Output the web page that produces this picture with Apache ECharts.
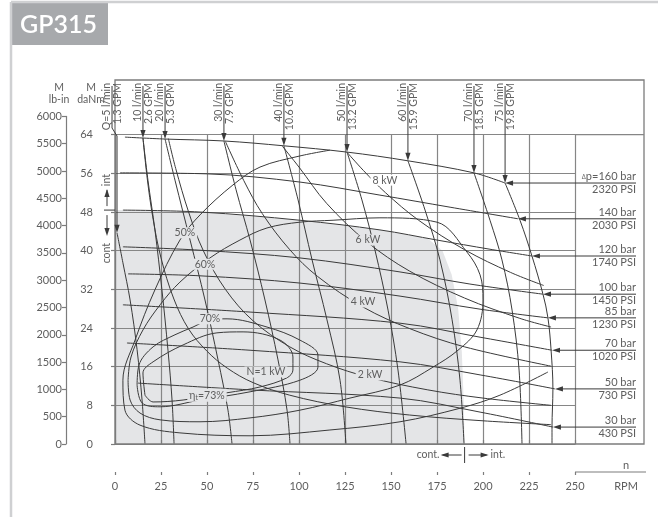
<!DOCTYPE html>
<html>
<head>
<meta charset="utf-8">
<script src="https://cdn.jsdelivr.net/npm/echarts@6/dist/echarts.min.js"></script>
<style>html,body{margin:0;padding:0;background:#fff}#c{width:658px;height:517px}</style>
</head>
<body>
<div id="c"></div>
<script>
// ---- GP315 motor: torque (daNm) vs speed (RPM) ----
const rpmMax = 250, rpmStep = 25;
const torqueMax = 64, torqueStep = 8;
const lbInMax = 6000, lbInStep = 500;

// constant pressure drop curves  [rpm, daNm]
const pressureBar = [160, 140, 120, 100, 85, 70, 50, 30];
const pressurePsi = [2320, 2030, 1740, 1450, 1230, 1020, 730, 430];
const p160 = [[5.4,63.5],[27.2,63.1],[59.2,62.7],[91.8,61.7],[126.1,60.4],[159.2,58.6],[195.1,56.1],[212.0,54.0]];
const p140 = [[2.7,56.1],[50.0,55.9],[100.5,54.2],[144.0,51.5],[182.1,49.0],[219.0,46.6]];
const p120 = [[4.3,48.4],[46.2,48.0],[100.5,46.3],[144.0,44.3],[175.0,42.2],[203.8,40.3],[226.6,38.9]];
const p100 = [[4.3,40.8],[46.2,40.1],[100.5,38.5],[154.9,35.6],[192.9,33.1],[232.6,31.0]];
const p85  = [[7.1,35.2],[46.2,34.8],[100.5,33.3],[154.9,30.6],[198.4,27.9],[235.3,26.1]];
const p70  = [[4.3,28.8],[73.4,27.3],[154.9,25.0],[198.4,22.1],[237.5,19.4]];
const p50  = [[6.5,20.9],[73.4,19.4],[154.9,17.0],[198.4,14.3],[239.1,11.4]];
const p30  = [[12.5,12.6],[73.4,11.2],[154.9,9.5],[198.4,6.6],[238.0,3.5]];
const pressureCurves = [p160, p140, p120, p100, p85, p70, p50, p30];

// constant flow curves
const flowLpm = [5, 10, 20, 30, 40, 50, 60, 70, 75];
const flowGpm = ['1.3', '2.6', '5.3', '7.9', '10.6', '13.2', '15.9', '18.5', '19.8'];
const q5  = [[1.1,43.7],[4.3,37.5],[8.2,29.8],[12.0,19.5],[14.7,9.1],[16.3,0]];
const q10 = [[15.2,63.3],[17.9,54.6],[21.7,44.3],[25.5,31.9],[28.8,19.4],[31.0,9.1],[32.1,0]];
const q20 = [[27.2,63.1],[32.6,54.6],[40.8,42.2],[48.9,29.8],[56.0,17.4],[61.4,7.0],[63.6,0]];
const q30 = [[59.2,62.7],[65.8,52.6],[73.4,42.2],[81.5,29.8],[88.6,17.4],[93.5,7.0],[95.1,0]];
const q40 = [[91.8,61.7],[99.5,50.5],[107.1,38.1],[115.2,25.7],[122.3,13.2],[125.5,0]];
const q50 = [[126.1,60.4],[134.2,50.5],[141.3,40.1],[148.4,27.7],[153.8,15.3],[158.2,0]];
const q60 = [[159.2,58.6],[168.5,48.4],[176.6,38.1],[183.2,25.7],[187.5,13.2],[189.7,0]];
const q70 = [[195.1,56.1],[203.8,46.3],[210.3,38.1],[215.8,27.7],[219.6,15.3],[221.2,0]];
const q75 = [[212.0,54.0],[220.1,46.3],[226.6,38.9],[232.6,31.0],[235.3,26.1],[237.0,19.4],[238.0,11.4],[237.5,3.5],[237.5,0]];
const flowCurves = [q5, q10, q20, q30, q40, q50, q60, q70, q75];

// constant output power curves
const powerKw = [1, 2, 4, 6, 8];
const n1 = [[15.2,63.3],[17.5,55.0],[20.5,47.0],[25,38.5],[32,30.0],[40,23.8],[50,19.2],[61,15.7],[75,12.7],[95,10.1],[125,7.7],[160,6.0],[200,4.8],[237,4.0]];
const n2 = [[29,63.2],[33,57.0],[40,48.0],[48,40.0],[60,32.0],[75,25.5],[95,20.1],[115,16.6],[138,13.8],[170,11.2],[200,9.5],[237,8.0]];
const n4 = [[60,62.6],[70,54.5],[80,47.7],[95,40.2],[110,34.7],[135,28.3],[160,23.9],[190,20.1],[237,16.1]];
const n6 = [[91,61.6],[100,57.3],[115,49.8],[137,41.8],[160,35.8],[190,30.2],[220,26.0],[237,24.2]];
const n8 = [[126,60.4],[135,56.6],[147,52.0],[165,46.3],[190,40.2],[215,35.5],[233,32.8]];
const powerCurves = [n1, n2, n4, n6, n8];

// overall efficiency contours
const effPct = [50, 60, 70, 73];
const e50 = [[116.8,60.8],[100.5,59.6],[78.8,57.3],[64.1,53.6],[46.2,47.4],[35.3,42.2],[21.7,31.9],[10.9,21.5],[4.3,13.2],[5.4,7.0],[13.6,3.9],[35.3,2.3],[73.4,1.7],[116.8,2.9],[154.9,4.6],[187.5,7.4],[209.2,10.1],[235.3,14.9]];
const e60 = [[7.1,13.2],[8.7,18.0],[15.2,23.6],[24.5,28.8],[35.3,33.5],[51.6,38.5],[67.9,42.2],[82.6,44.7],[100.5,45.9],[118.5,46.3],[144.0,46.8],[175.0,45.9],[191.3,39.7],[198.4,35.0],[200.0,29.8],[196.7,23.6],[186.4,19.4],[172.8,15.9],[154.9,12.2],[127.7,9.5],[100.5,7.0],[73.4,5.4],[46.2,4.6],[24.5,5.0],[13.6,6.4],[8.2,9.1],[7.1,13.2]];
const e70 = [[12.0,12.2],[13.0,16.3],[20.7,20.1],[32.6,22.6],[42.4,24.2],[51.6,25.7],[60.9,25.9],[82.6,24.2],[100.5,21.5],[110.3,18.4],[110.3,15.9],[100.5,13.2],[73.4,10.8],[46.2,9.1],[24.5,7.7],[14.7,8.5],[12.0,12.2]];
const e73 = [[16.3,10.1],[15.2,14.7],[20.7,17.0],[37.0,20.5],[55.4,23.0],[69.6,23.2],[89.7,21.5],[96.7,18.0],[96.7,15.3],[93.5,13.7],[78.8,11.8],[60.9,10.6],[37.0,9.1],[20.7,8.7],[16.3,10.1]];
const effCurves = [e50, e60, e70, e73];

// continuous duty area
const contArea = [[0,0],[0,48.4],[4.3,48.4],[46.2,48.0],[100.5,46.3],[144.0,44.3],[170,42.5],[178,40],[183,35],[186.5,28],[188.5,19],[189.5,9],[190,0]];

// curve label anchors
const effLabelAt = [[38,43.7],[48.9,37.2],[51.6,25.9],[50,10.1]];
const powerLabelAt = [[82,14.9],[138.6,14.3],[134.8,29.4],[137.5,42.2],[146.7,54.6]];

// ---- styling ----
const FONT = 'Lato, "Open Sans", sans-serif';
const lineColor = '#3a3a3a';
const gridColor = '#868686';
const frameColor = '#7c7c7c';
const textColor = '#5e5e5e';
const shadeColor = '#e4e5e7';

const chart = echarts.init(document.getElementById('c'));

function curve(data) {
  return { type: 'line', xAxisIndex: 0, yAxisIndex: 0, data, symbol: 'none', showSymbol: false,
    smooth: 0.35, silent: true, z: 3, lineStyle: { color: lineColor, width: 1 } };
}

const axisFont = { color: textColor, fontSize: 11, fontFamily: FONT };

const option = {
  animation: false,
  grid: [
    { left: 115, right: 83, top: 134.7, bottom: 73 },
    { left: 66, width: 1, top: 116.4, bottom: 73 }
  ],
  xAxis: [
    { gridIndex: 0, type: 'value', position: 'bottom', min: 0, max: rpmMax, interval: rpmStep, offset: 28,
      axisLine: { lineStyle: { color: frameColor, width: 1.2 } },
      axisTick: { inside: true, length: 4, lineStyle: { color: frameColor, width: 1.2 } },
      axisLabel: Object.assign({ margin: 9 }, axisFont),
      splitLine: { show: true, lineStyle: { color: gridColor, width: 1.2 } } },
    { gridIndex: 0, type: 'value', position: 'bottom', min: 0, max: rpmMax, interval: rpmStep, offset: 28,
      axisLine: { show: false }, axisLabel: { show: false }, splitLine: { show: false },
      axisTick: { inside: false, length: 3, lineStyle: { color: frameColor, width: 1.2 } } },
    { gridIndex: 1, type: 'value', show: false, min: 0, max: 1 }
  ],
  yAxis: [
    { gridIndex: 0, type: 'value', min: 0, max: torqueMax, interval: torqueStep, offset: 18,
      axisLine: { show: true, lineStyle: { color: frameColor, width: 1.2 } },
      axisTick: { show: true, length: 4, lineStyle: { color: frameColor, width: 1.2 } },
      axisLabel: Object.assign({ margin: 4 }, axisFont),
      splitLine: { show: true, lineStyle: { color: gridColor, width: 1.2 } } },
    { gridIndex: 1, type: 'value', min: 0, max: lbInMax, interval: lbInStep,
      axisLine: { show: true, lineStyle: { color: frameColor, width: 1.2 } },
      axisTick: { show: true, length: 4, lineStyle: { color: frameColor, width: 1.2 } },
      axisLabel: Object.assign({ margin: 4, formatter: v => String(v) }, axisFont),
      splitLine: { show: false } }
  ],
  series: [
    { type: 'custom', xAxisIndex: 0, yAxisIndex: 0, z: -1, silent: true, data: [[0, 0]],
      renderItem: (params, api) => ({ type: 'polygon',
        shape: { points: contArea.map(p => api.coord(p)) }, style: { fill: shadeColor } }) }
  ]
    .concat(pressureCurves.map(curve))
    .concat(flowCurves.map(curve))
    .concat(powerCurves.map(curve))
    .concat(effCurves.map(curve))
};
chart.setOption(option);

// ---- annotations placed through the axis scales ----
const toPx = p => chart.convertToPixel({ xAxisIndex: 0, yAxisIndex: 0 }, p);
const G = [];
function seg(x1, y1, x2, y2, stroke, w) {
  G.push({ type: 'line', silent: true, z: 50, shape: { x1, y1, x2, y2 }, style: { stroke: stroke || lineColor, lineWidth: w || 1 } });
}
function pline(points, stroke, w) {
  G.push({ type: 'polyline', silent: true, z: 50, shape: { points }, style: { stroke: stroke || lineColor, lineWidth: w || 1, fill: null } });
}
function tri(points, fill) {
  G.push({ type: 'polygon', silent: true, z: 51, shape: { points }, style: { fill: fill || lineColor } });
}
function txt(str, x, y, o) {
  o = o || {};
  const st = { text: str, x: 0, y: 0, fill: o.fill || textColor,
    font: (o.weight || 'normal') + ' ' + (o.size || 11) + 'px ' + FONT,
    align: o.align || 'center', verticalAlign: o.valign || 'middle',
    textAlign: o.align || 'center', textVerticalAlign: o.valign || 'middle' };
  if (o.bg) { st.backgroundColor = o.bg; st.padding = o.pad || [0, 2]; }
  if (o.rich) st.rich = o.rich;
  G.push({ type: 'text', silent: true, z: o.z || 60, x, y, rotation: o.rot || 0, style: st });
}
function arrowDown(x, y) { tri([[x - 2.6, y - 8], [x + 2.6, y - 8], [x, y]]); }
function arrowLeft(x, y) { tri([[x + 8, y - 2.6], [x + 8, y + 2.6], [x, y]]); }
function arrowRight(x, y) { tri([[x - 8, y - 2.6], [x - 8, y + 2.6], [x, y]]); }
function arrowUp(x, y) { tri([[x - 2.6, y + 8], [x + 2.6, y + 8], [x, y]]); }

const origin = toPx([0, 0]);
const corner = toPx([rpmMax, torqueMax]);
const frameTop = 80, frameRight = 644, labelRight = 636;

// page card, title tab
seg(11, 2, 658, 2, '#cfd0d2', 2.5);
seg(11, 2, 11, 517, '#cfd0d2', 2.5);
G.push({ type: 'rect', silent: true, z: 40, shape: { x: 11, y: 2, width: 97, height: 43 }, style: { fill: '#a7a9ac' } });
txt('GP315', 20, 25, { size: 25, weight: 600, fill: '#ffffff', align: 'left', z: 41 });

// outer frame around plot and label columns
G.push({ type: 'rect', silent: true, z: 45, shape: { x: origin[0], y: frameTop, width: frameRight - origin[0], height: origin[1] - frameTop },
  style: { fill: null, stroke: frameColor, lineWidth: 1.3 } });
seg(corner[0], corner[1], frameRight, corner[1], gridColor, 1.2);
// x-axis line continues under the unit label
seg(corner[0], origin[1] + 28, frameRight + 2, origin[1] + 28, frameColor, 1.2);
txt('n', 626, origin[1] + 21, { size: 11 });
txt('RPM', 626, origin[1] + 42, { size: 11 });

// axis titles
txt('M', 59, 88, { size: 10.5 });
txt('lb-in', 59, 99.5, { size: 10.5 });
txt('M', 91, 88, { size: 10.5 });
txt('daNm', 91, 99.5, { size: 10.5 });

// continuous / intermittent markers
const contEdge = toPx(contArea[contArea.length - 1]);
seg(contEdge[0], origin[1] + 3, contEdge[0], origin[1] + 19, lineColor, 1);
seg(contEdge[0] - 3, origin[1] + 11, contEdge[0] - 22, origin[1] + 11, lineColor, 1);
arrowLeft(contEdge[0] - 24, origin[1] + 11);
txt('cont.', contEdge[0] - 25, origin[1] + 11, { align: 'right', size: 10.5 });
seg(contEdge[0] + 4, origin[1] + 11, contEdge[0] + 22, origin[1] + 11, lineColor, 1);
arrowRight(contEdge[0] + 24, origin[1] + 11);
txt('int.', contEdge[0] + 26, origin[1] + 11, { align: 'left', size: 10.5 });

const contTop = toPx(contArea[1]);
seg(104, contTop[1], origin[0], contTop[1], lineColor, 1);
seg(107, contTop[1] - 4, 107, contTop[1] - 20, lineColor, 1);
arrowUp(107, contTop[1] - 21);
txt('int', 107, contTop[1] - 30, { rot: Math.PI / 2, size: 10.5, align: 'center' });
seg(107, contTop[1] + 5, 107, contTop[1] + 20, lineColor, 1);
arrowDown(107, contTop[1] + 26);
txt('cont', 107, contTop[1] + 43, { rot: Math.PI / 2, size: 10.5, align: 'center' });

// flow labels along the top
flowCurves.forEach((c, i) => {
  const tip = toPx(c[0]);
  let ax = tip[0];
  if (i === 0) {
    ax = tip[0] - 5;
    pline([[ax, 86], [ax, 128], [tip[0], 136], [tip[0], tip[1] - 6]]);
  } else {
    seg(ax, 86, ax, tip[1] - 6);
  }
  arrowDown(tip[0], tip[1]);
  const first = (i === 0 ? 'Q=' : '') + flowLpm[i] + ' l/min';
  txt(first, ax - 5.5, 83, { rot: Math.PI / 2, align: 'right', size: 10.5 });
  txt(flowGpm[i] + ' GPM', ax + 5.5, 83, { rot: Math.PI / 2, align: 'right', size: 10.5 });
});

// pressure labels on the right
pressureCurves.forEach((c, i) => {
  const tip = toPx(c[c.length - 1]);
  seg(labelRight, tip[1], tip[0] + 6, tip[1]);
  arrowLeft(tip[0], tip[1]);
  if (i === 0) {
    txt('{s|\u2206}p=' + pressureBar[i] + ' bar', labelRight, tip[1] - 6.5,
      { align: 'right', size: 11, rich: { s: { fontSize: 7, fill: textColor, fontFamily: FONT } } });
  } else {
    txt(pressureBar[i] + ' bar', labelRight, tip[1] - 6.5, { align: 'right', size: 11 });
  }
  txt(pressurePsi[i] + ' PSI', labelRight, tip[1] + 6.5, { align: 'right', size: 11 });
});

// efficiency and power labels
const inShade = p => p[1] < 44 && p[0] < 185;
effLabelAt.forEach((p, i) => {
  const q = toPx(p);
  const bg = inShade(p) ? shadeColor : '#ffffff';
  if (i === effPct.length - 1) {
    txt('{e|\u03b7}{t|t}{e|=' + effPct[i] + '%}', q[0], q[1], { bg, rich: {
      e: { fontSize: 10.5, fill: textColor, fontFamily: FONT },
      t: { fontSize: 7, fill: textColor, fontFamily: FONT, verticalAlign: 'bottom', padding: [6, 0, 0, 0] } } });
  } else {
    txt(effPct[i] + '%', q[0], q[1], { bg, size: 10.5 });
  }
});
powerLabelAt.forEach((p, i) => {
  const q = toPx(p);
  const bg = inShade(p) ? shadeColor : '#ffffff';
  txt((i === 0 ? 'N=' : '') + powerKw[i] + ' kW', q[0], q[1], { bg, size: 10.5 });
});

chart.setOption({ graphic: { elements: G } });
</script>
</body>
</html>
